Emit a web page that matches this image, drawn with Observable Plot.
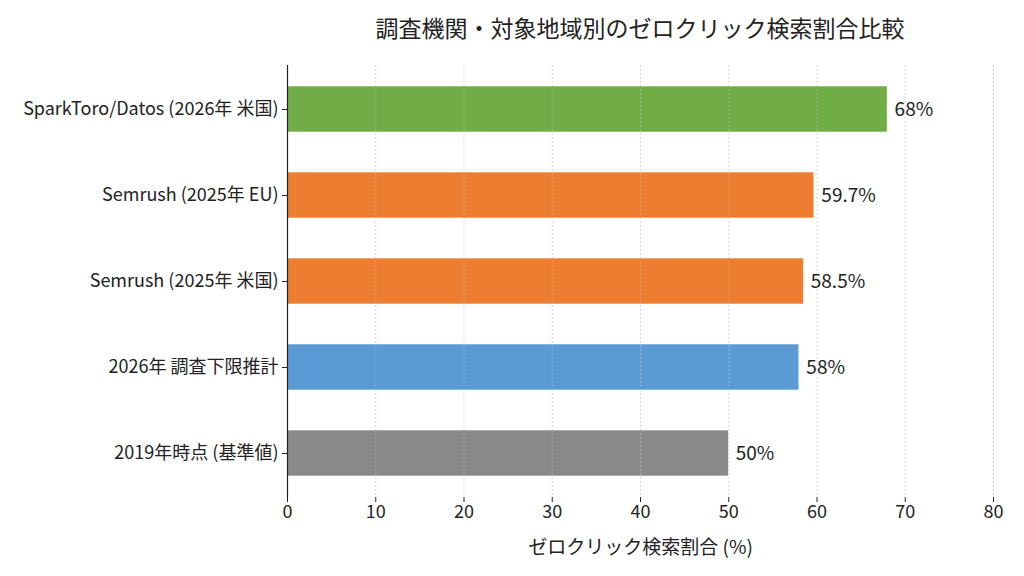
<!DOCTYPE html>
<html><head><meta charset="utf-8">
<script src="https://cdn.jsdelivr.net/npm/d3@7"></script>
<script src="https://cdn.jsdelivr.net/npm/@observablehq/plot@0.6"></script>
<style>
body{margin:0;background:#fff;font-family:"Noto Sans CJK JP","Noto Sans",sans-serif;}
#wrap{position:relative;width:1024px;height:576px;}
#title{position:absolute;z-index:2;left:0;width:1280px;top:10px;line-height:34px;text-align:center;font-size:23px;color:#222;}
#chart{position:absolute;z-index:1;left:0;top:0;}
</style></head>
<body><div id="wrap"><div id="title">調査機関・対象地域別のゼロクリック検索割合比較</div><div id="chart"></div></div>
<script>
const categories = ["SparkToro/Datos (2026年 米国)", "Semrush (2025年 EU)", "Semrush (2025年 米国)", "2026年 調査下限推計", "2019年時点 (基準値)"];
const values = [68, 59.7, 58.5, 58, 50];
const labels = ["68%", "59.7%", "58.5%", "58%", "50%"];
const colors = ["#70ad47", "#ed7d31", "#ed7d31", "#5b9bd5", "#898989"];
const xTicks = [0, 10, 20, 30, 40, 50, 60, 70, 80];

const data = categories.map((c, i) => ({cat: c, v: values[i], label: labels[i], color: colors[i]}));

const plot = Plot.plot({
  width: 1024, height: 576,
  marginLeft: 287, marginRight: 31, marginTop: 65, marginBottom: 79,
  style: {fontFamily: '"Noto Sans CJK JP","Noto Sans",sans-serif', fontSize: "18px", color: "#222", background: "#fff"},
  x: {domain: [0, 80], ticks: xTicks},
  y: {domain: categories, paddingInner: 0.46, paddingOuter: 0.22},
  marks: [
    Plot.barX(data, {y: "cat", x: "v", fill: "color", stroke: "#fff", strokeWidth: 0.6}),
    Plot.gridX(xTicks, {stroke: "#bbb", strokeOpacity: 0.8, strokeDasharray: "1.5,2.5", strokeWidth: 1}),
    Plot.text(data, {y: "cat", x: "v", text: "label", textAnchor: "start", dx: 7, fontSize: 19, fill: "#222"}),
    Plot.axisX({ticks: xTicks, tickSize: 5, tickPadding: 3, fontSize: 18, label: null}),
    Plot.axisX({ticks: [], tickSize: 0, label: "ゼロクリック検索割合 (%)", labelAnchor: "center", labelArrow: "none", labelOffset: 56, fontSize: 19}),
    Plot.axisY({tickSize: 5, tickPadding: 4, fontSize: 18, label: null}),
    Plot.ruleX([0], {stroke: "#222", strokeWidth: 1.2}),
    Plot.ruleY([0], {frameAnchor: "bottom", stroke: "#222", strokeWidth: 1.2})
  ]
});
document.getElementById("chart").appendChild(plot);
</script></body></html>
